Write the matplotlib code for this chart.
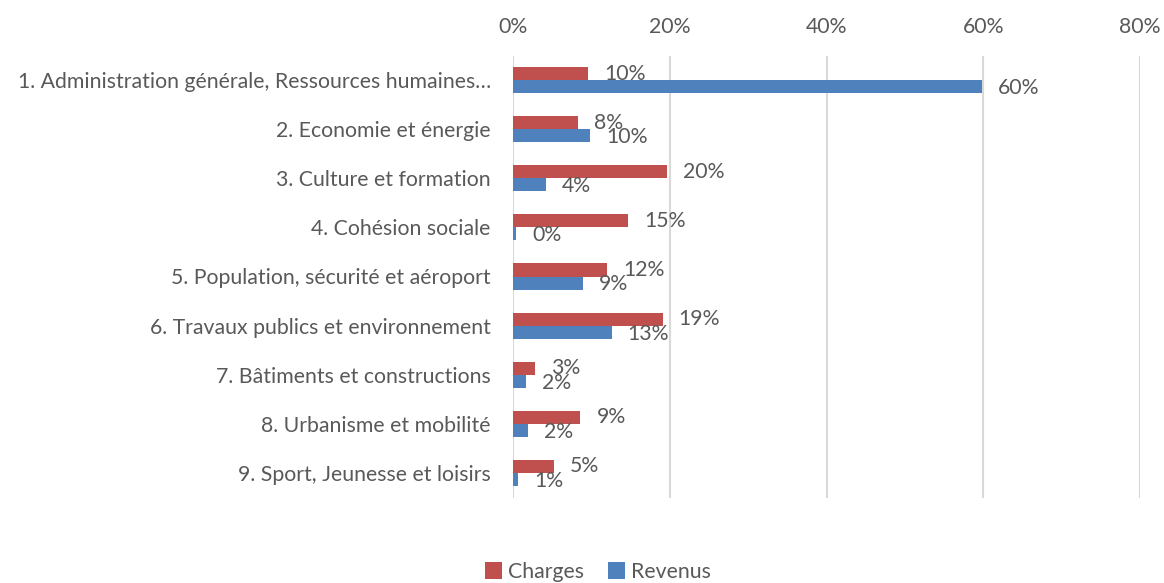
import matplotlib
matplotlib.use("Agg")
import matplotlib.pyplot as plt
import numpy as np

categories = [
    "1. Administration générale, Ressources humaines…",
    "2. Economie et énergie",
    "3. Culture et formation",
    "4. Cohésion sociale",
    "5. Population, sécurité et aéroport",
    "6. Travaux publics et environnement",
    "7. Bâtiments et constructions",
    "8. Urbanisme et mobilité",
    "9. Sport, Jeunesse et loisirs",
]
charges = [9.6, 8.3, 19.7, 14.7, 12.0, 19.1, 2.8, 8.6, 5.2]
revenus = [59.8, 9.8, 4.2, 0.4, 8.9, 12.6, 1.6, 1.9, 0.7]
xticks = [0, 20, 40, 60, 80]

RED = "#C0504D"
BLUE = "#4F81BD"
TXT = "#595959"
GRID = "#D9D9D9"
FS = 15.3
plt.rcParams['font.family'] = ['Lato', 'DejaVu Sans']

fig = plt.figure(figsize=(11.64, 5.83), dpi=100)
ax = fig.add_axes([513/1164, 1-497.5/583, (1140-513)/1164, 442/583])

y = np.arange(len(categories))
h = 0.265
ax.barh(y - h/2, charges, height=h, color=RED, label="Charges", zorder=3)
ax.barh(y + h/2, revenus, height=h, color=BLUE, label="Revenus", zorder=3)

ax.set_xlim(0, 80)
ax.set_ylim(len(categories) - 0.5, -0.5)
ax.set_yticks(y)
ax.set_yticklabels(categories, fontsize=FS, color=TXT)
ax.set_xticks(xticks)
ax.set_xticklabels([f"{t}%" for t in xticks], fontsize=FS, color=TXT)
ax.xaxis.tick_top()
ax.tick_params(axis='both', length=0)
ax.tick_params(axis='y', pad=16)
ax.tick_params(axis='x', pad=13)
ax.grid(axis='x', color=GRID, linewidth=1.5, zorder=0)
for s in ax.spines.values():
    s.set_visible(False)

off = 16 / (627/80)
for i in range(len(categories)):
    ax.text(charges[i] + off, y[i] - h/2, f"{round(charges[i])}%", va='center', ha='left',
            fontsize=FS, color=TXT, zorder=4)
    ax.text(revenus[i] + off, y[i] + h/2 + 0.03, f"{round(revenus[i])}%", va='center', ha='left',
            fontsize=FS, color=TXT, zorder=4)

leg = fig.legend(loc='center', bbox_to_anchor=(598/1164, 1-572/583), ncol=2, frameon=False,
                 fontsize=FS, handlelength=0.8, handleheight=0.8, handletextpad=0.3,
                 columnspacing=1.1)
for t in leg.get_texts():
    t.set_color(TXT)

fig.savefig("out.png", dpi=100)
